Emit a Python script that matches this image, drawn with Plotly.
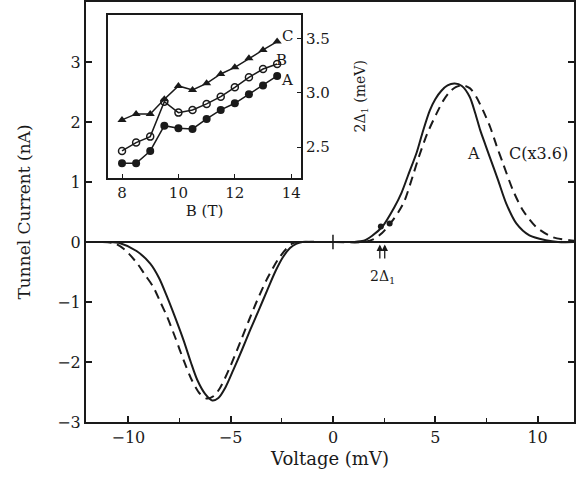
import plotly.graph_objects as go

# ---- main panel data (Voltage mV, Tunnel current nA) ----
v_A = [-12.0, -11.0, -10.4, -9.6, -8.93, -8.5, -8.1, -7.7, -7.3, -6.95, -6.63, -6.25, -5.9, -5.6,
       -5.25, -4.88, -4.45, -4.05, -3.62, -3.22, -2.8, -2.44, -2.1, -1.8, -1.5, -1.0, 0.0, 1.0,
       1.5, 1.9, 2.4, 3.0, 3.35, 3.66, 4.1, 4.4, 4.73, 5.0, 5.3, 5.6, 5.95, 6.3, 6.68, 6.95, 7.2,
       7.45, 7.66, 8.07, 8.47, 8.96, 9.6, 10.4, 11.0, 12.0]
i_A = [0.0, 0.0, -0.02, -0.15, -0.36, -0.6, -0.92, -1.27, -1.64, -2.0, -2.3, -2.53, -2.64, -2.6,
       -2.42, -2.14, -1.8, -1.47, -1.13, -0.81, -0.48, -0.25, -0.1, -0.03, 0.0, 0.0, 0.0, 0.0,
       0.02, 0.1, 0.25, 0.58, 0.82, 1.1, 1.5, 1.85, 2.19, 2.38, 2.52, 2.61, 2.64, 2.6, 2.42, 2.15, 1.86,
       1.62, 1.42, 1.03, 0.64, 0.31, 0.11, 0.03, 0.0, 0.0]

v_C = [-12.0, -11.5, -10.7, -10.2, -9.56, -9.2, -8.78, -8.45, -8.1, -7.7, -7.3, -6.9, -6.5, -6.15,
       -5.8, -5.5, -5.0, -4.5, -4.1, -3.7, -3.2, -2.7, -2.3, -1.95, -1.5, 0.0, 1.5, 2.0, 2.4, 2.85,
       3.2, 3.5, 3.9, 4.2, 4.6, 5.06, 5.4, 5.7, 6.0, 6.36, 6.7, 7.0, 7.35, 7.7, 8.0, 8.31, 8.8,
       9.28, 9.93, 10.74, 11.56, 12.0]
i_C = [0.0, 0.0, -0.02, -0.12, -0.36, -0.54, -0.75, -0.99, -1.25, -1.6, -1.97, -2.3, -2.53, -2.61,
       -2.56, -2.42, -2.06, -1.64, -1.3, -0.97, -0.6, -0.3, -0.12, -0.02, 0.0, 0.0, 0.0, 0.05, 0.15,
       0.33, 0.5, 0.69, 1.1, 1.42, 1.8, 2.14, 2.36, 2.5, 2.58, 2.61, 2.56, 2.42, 2.18, 1.9, 1.6,
       1.31, 0.86, 0.53, 0.25, 0.08, 0.03, 0.01]

gap_v = [2.34, 2.77]
gap_i = [0.26, 0.31]

# ---- inset data (B in T, 2Delta1 in meV) ----
b_field = [8, 8.5, 9, 9.5, 10, 10.5, 11, 11.5, 12, 12.5, 13, 13.5]
gap_C = [2.75, 2.805, 2.805, 2.94, 3.063, 3.026, 3.087, 3.173, 3.234, 3.317, 3.394, 3.471]
gap_B = [2.464, 2.541, 2.596, 2.918, 2.817, 2.842, 2.897, 2.964, 3.05, 3.142, 3.219, 3.265]
gap_Aa = [2.35, 2.35, 2.464, 2.697, 2.673, 2.667, 2.759, 2.842, 2.903, 2.986, 3.066, 3.155]

ink = "#1a1a1a"
FONT = "DejaVu Serif"

fig = go.Figure()

# zero line
fig.add_trace(go.Scatter(x=[-12.07, 11.78], y=[0, 0], mode="lines",
                         line=dict(color=ink, width=2), showlegend=False, hoverinfo="skip"))
fig.add_trace(go.Scatter(x=v_A, y=i_A, mode="lines",
                         line=dict(color=ink, width=2, shape="spline", smoothing=0.8),
                         showlegend=False))
fig.add_trace(go.Scatter(x=v_C, y=i_C, mode="lines",
                         line=dict(color=ink, width=2, dash="9px,6px", shape="spline", smoothing=0.8),
                         showlegend=False))
fig.add_trace(go.Scatter(x=gap_v, y=gap_i, mode="markers",
                         marker=dict(color=ink, size=6), showlegend=False))

# inset
fig.add_trace(go.Scatter(x=b_field, y=gap_C, mode="lines+markers", xaxis="x2", yaxis="y2",
                         line=dict(color=ink, width=1.5),
                         marker=dict(symbol="triangle-up", size=8, color=ink), showlegend=False))
fig.add_trace(go.Scatter(x=b_field, y=gap_B, mode="lines+markers", xaxis="x2", yaxis="y2",
                         line=dict(color=ink, width=1.5),
                         marker=dict(symbol="circle-open", size=7, color=ink, line=dict(width=1.5)),
                         showlegend=False))
fig.add_trace(go.Scatter(x=b_field, y=gap_Aa, mode="lines+markers", xaxis="x2", yaxis="y2",
                         line=dict(color=ink, width=1.5),
                         marker=dict(symbol="circle", size=8, color=ink), showlegend=False))

annotations = [
    dict(x=6.86, y=1.48, xref="x", yref="y", text="A", showarrow=False,
         font=dict(family=FONT, size=16, color=ink)),
    dict(x=8.5, y=1.48, xref="x", yref="y", text="C(x3.6)", showarrow=False, xanchor="left",
         font=dict(family=FONT, size=16, color=ink)),
    dict(x=2.4, y=-0.58, xref="x", yref="y", text="2Δ<sub>1</sub>", showarrow=False,
         font=dict(family=FONT, size=14, color=ink)),
    dict(x=2.29, y=-0.04, ax=2.29, ay=-0.3, xref="x", yref="y", axref="x", ayref="y",
         text="", showarrow=True, arrowhead=2, arrowsize=1, arrowwidth=1.3, arrowcolor=ink),
    dict(x=2.53, y=-0.04, ax=2.53, ay=-0.3, xref="x", yref="y", axref="x", ayref="y",
         text="", showarrow=True, arrowhead=2, arrowsize=1, arrowwidth=1.3, arrowcolor=ink),
    dict(x=13.85, y=3.52, xref="x2", yref="y2", text="C", showarrow=False, xanchor="center",
         font=dict(family=FONT, size=15, color=ink)),
    dict(x=13.65, y=3.30, xref="x2", yref="y2", text="B", showarrow=False, xanchor="center",
         font=dict(family=FONT, size=15, color=ink)),
    dict(x=13.85, y=3.12, xref="x2", yref="y2", text="A", showarrow=False, xanchor="center",
         font=dict(family=FONT, size=15, color=ink)),
    dict(x=0.563, y=0.865, xref="paper", yref="paper", text="2Δ<sub>1</sub> (meV)", textangle=-90,
         showarrow=False, font=dict(family=FONT, size=14, color=ink)),
]

fig.update_layout(
    width=576, height=486,
    margin=dict(l=86, r=0, t=2, b=64),
    paper_bgcolor="white", plot_bgcolor="white",
    font=dict(family=FONT, size=16, color=ink),
    annotations=annotations,
    shapes=[dict(type="line", xref="x", yref="y", x0=0, x1=0, y0=-0.12, y1=0.12,
                 line=dict(color=ink, width=1.5))],
    xaxis=dict(range=[-12.07, 11.78], showline=True, mirror=True, linecolor=ink, linewidth=2,
               ticks="inside", ticklen=6, tickwidth=1.5, tickcolor=ink,
               tickvals=[-10, -5, 0, 5, 10], ticktext=["−10", "−5", "0", "5", "10"],
               minor=dict(ticks="inside", ticklen=4, tickwidth=1.2, tickcolor=ink, dtick=2.5, tick0=0),
               showgrid=False, zeroline=False,
               title=dict(text="Voltage (mV)", font=dict(family=FONT, size=18), standoff=6),
               tickfont=dict(family=FONT, size=16)),
    yaxis=dict(range=[-3, 4], showline=True, mirror="ticks", linecolor=ink, linewidth=2,
               ticks="inside", ticklen=6, tickwidth=1.5, tickcolor=ink,
               tickvals=[-3, -2, -1, 0, 1, 2, 3], ticktext=["−3", "−2", "−1", "0", "1", "2", "3"],
               showgrid=False, zeroline=False,
               title=dict(text="Tunnel Current (nA)", font=dict(family=FONT, size=17), standoff=22),
               tickfont=dict(family=FONT, size=16)),
    xaxis2=dict(domain=[0.0449, 0.4408], anchor="y2", range=[7.5, 14.35],
                showline=True, mirror=True, linecolor=ink, linewidth=1.8,
                ticks="inside", ticklen=4, tickwidth=1.2, tickcolor=ink,
                tickvals=[8, 10, 12, 14], showgrid=False, zeroline=False,
                title=dict(text="B (T)", font=dict(family=FONT, size=15), standoff=2),
                tickfont=dict(family=FONT, size=15)),
    yaxis2=dict(domain=[0.581, 0.969], anchor="x2", side="right", range=[2.215, 3.716],
                showline=True, mirror=True, linecolor=ink, linewidth=1.8,
                ticks="inside", ticklen=4, tickwidth=1.2, tickcolor=ink,
                tickvals=[2.5, 3.0, 3.5], ticktext=["2.5", "3.0", "3.5"],
                showgrid=False, zeroline=False,
                tickfont=dict(family=FONT, size=15)),
)

fig.write_html("out.html")
